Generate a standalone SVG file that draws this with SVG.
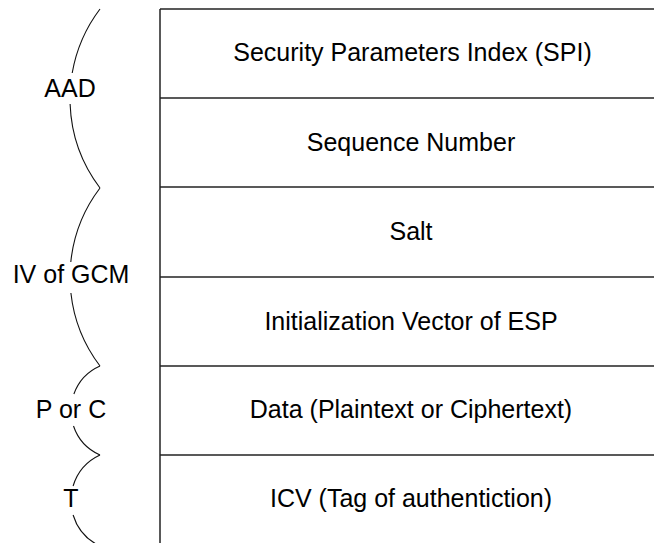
<svg xmlns="http://www.w3.org/2000/svg" width="655" height="543" viewBox="0 0 655 543">
<style>
.t{font-family:"Liberation Sans",Arial,sans-serif;font-size:25px;fill:#000;text-anchor:middle}
.ln{stroke:#222;stroke-width:1.5;fill:none}
.br{stroke:#111;stroke-width:1.1;fill:none}
</style>
<rect width="655" height="543" fill="#fff"/>
<g id="connectors">
<path class="br" d="M100,9 A148.5,148.5 0 0 0 72.2,73 M70.1,104 A148.5,148.5 0 0 0 100,188"/>
<path class="br" d="M100,188 A147,147 0 0 0 70.8,262 M70.9,293 A147,147 0 0 0 100,366"/>
<path class="br" d="M100,366 A48.6,48.6 0 0 0 73.9,394 M73.5,426 A48.6,48.6 0 0 0 100,455"/>
<path class="br" d="M100,455 A50.2,50.2 0 0 0 73.1,486 M73.1,515 A50.2,50.2 0 0 0 100,546"/>
</g>
<g id="stack">
<line class="ln" x1="160" y1="9" x2="160" y2="543"/>
<line class="ln" x1="160" y1="9" x2="654" y2="9"/>
<line class="ln" x1="160" y1="98" x2="654" y2="98"/>
<line class="ln" x1="160" y1="187" x2="654" y2="187"/>
<line class="ln" x1="160" y1="277" x2="654" y2="277"/>
<line class="ln" x1="160" y1="366" x2="654" y2="366"/>
<line class="ln" x1="160" y1="455" x2="654" y2="455"/>
</g>
<g id="spi"><text class="t" x="412.5" y="61">Security Parameters Index (SPI)</text></g>
<g id="seq"><text class="t" x="411" y="151">Sequence Number</text></g>
<g id="salt"><text class="t" x="411" y="240">Salt</text></g>
<g id="iv"><text class="t" x="411" y="330">Initialization Vector of ESP</text></g>
<g id="data"><text class="t" x="411" y="418">Data (Plaintext or Ciphertext)</text></g>
<g id="icv"><text class="t" x="411" y="507">ICV (Tag of authentiction)</text></g>
<g id="aad"><text class="t" x="70" y="97">AAD</text></g>
<g id="ivgcm"><text class="t" x="71" y="283">IV of GCM</text></g>
<g id="porc"><text class="t" x="71" y="418">P or C</text></g>
<g id="tlabel"><text class="t" x="71" y="507">T</text></g>
</svg>
